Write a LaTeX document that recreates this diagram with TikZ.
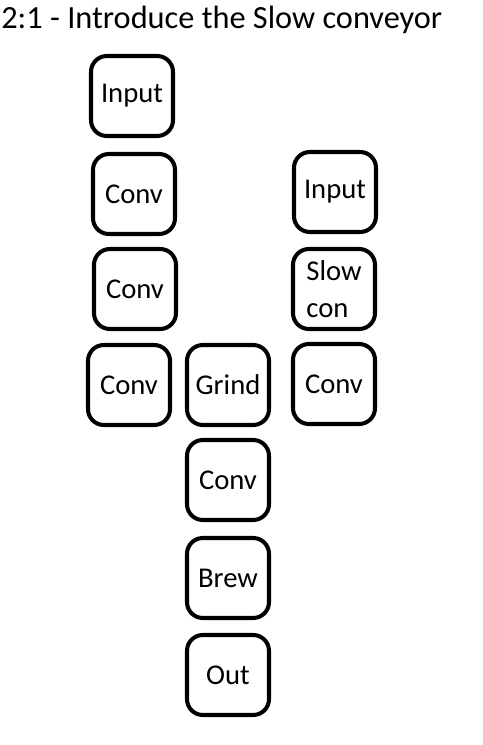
\documentclass[tikz,border=0pt]{standalone}
\usepackage{fontspec}
\setmainfont{Carlito}
\usetikzlibrary{positioning}
\tikzset{
  maquina/.style={rectangle, rounded corners=9pt, draw=black, line width=2.3pt,
    fill=white, minimum width=1.64cm, minimum height=1.6cm,
    align=left, font=\fontsize{16.3}{21}\selectfont, inner sep=1pt},
  titulo/.style={anchor=west, font=\fontsize{18.4}{22}\selectfont, inner sep=0pt},
}

\begin{document}
\begin{tikzpicture}[x=0.02cm, y=-0.02cm]
    \useasboundingbox (0,0) rectangle (483,745);
    \node[titulo] (tit) at (1,20) {2:1 - Introduce the Slow conveyor};
    % left column
    \node[maquina] (inp) at (132,96)  {Input};
    \node[maquina] (cv1) at (134,194) {Conv};
    \node[maquina] (cv2) at (135,289) {Conv};
    \node[maquina] (cv3) at (129,385) {Conv};
    % middle column
    \node[maquina] (grd) at (228,385) {Grind};
    \node[maquina] (cv4) at (228,480) {Conv};
    \node[maquina] (brw) at (228,578) {Brew};
    \node[maquina] (out) at (228,675) {Out};
    % right column
    \node[maquina] (inq) at (335,192) {Input};
    \node[maquina] (slw) at (334,289) {Slow\\con};
    \node[maquina] (cv5) at (334,384) {Conv};
  \end{tikzpicture}
\end{document}
